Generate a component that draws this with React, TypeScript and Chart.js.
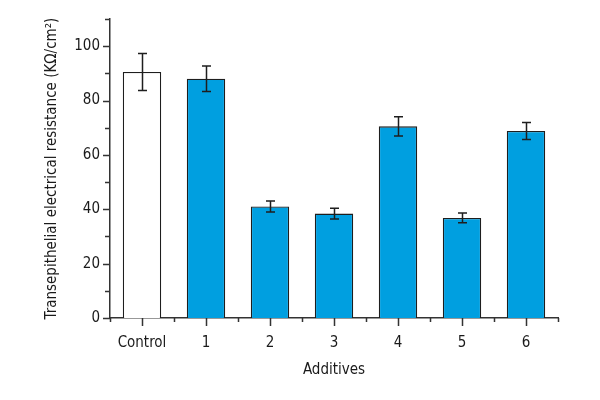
import React, { useEffect, useRef } from 'react';
import { Chart, registerables } from 'chart.js';

Chart.register(...registerables);

const categories = ['Control', '1', '2', '3', '4', '5', '6'];
const teerValues = [90.5, 88.0, 41.0, 38.4, 70.5, 36.8, 68.8];
const errorValues = [6.8, 4.7, 2.0, 2.0, 3.5, 1.8, 3.1];
const yMin = 0;
const yMax = 110;
const yStep = 10;
const yLabelStep = 20;
const yLabelMax = 100;
const yTitle = 'Transepithelial electrical resistance (KΩ/cm²)';
const xTitle = 'Additives';

const FONT = '"Liberation Sans Narrow", "DejaVu Sans Condensed", "Roboto", sans-serif';
const AXIS_COLOR = '#333333';
const BAR_BLUE = '#009fe0';

const axisPlugin = {
  id: 'axisTicksAndErrors',
  afterDatasetsDraw(chart: any) {
    const { ctx, chartArea, scales } = chart;
    const x = scales.x;
    const y = scales.y;
    ctx.save();
    ctx.strokeStyle = '#1e1e1e';
    ctx.lineWidth = 1.5;
    const meta = chart.getDatasetMeta(0);
    meta.data.forEach((bar: any, i: number) => {
      const xc = Math.round(bar.x) + 0.5;
      const top = y.getPixelForValue(teerValues[i] + errorValues[i]);
      const bot = y.getPixelForValue(teerValues[i] - errorValues[i]);
      const cap = 4.5;
      ctx.beginPath();
      ctx.moveTo(xc, top);
      ctx.lineTo(xc, bot);
      ctx.moveTo(xc - cap, top);
      ctx.lineTo(xc + cap, top);
      ctx.moveTo(xc - cap, bot);
      ctx.lineTo(xc + cap, bot);
      ctx.stroke();
    });
    ctx.strokeStyle = AXIS_COLOR;
    ctx.lineWidth = 1.5;
    ctx.beginPath();
    for (let v = yMin; v <= yMax; v += yStep) {
      const py = Math.round(y.getPixelForValue(v)) + 0.5;
      const len = v % yLabelStep === 0 && v <= yLabelMax ? 7 : 5;
      ctx.moveTo(chartArea.left - len, py);
      ctx.lineTo(chartArea.left, py);
    }
    for (let i = 0; i < categories.length; i++) {
      const px = Math.round(x.getPixelForValue(i)) + 0.5;
      ctx.moveTo(px, chartArea.bottom);
      ctx.lineTo(px, chartArea.bottom + 8);
    }
    for (let i = 0; i <= categories.length; i++) {
      const px = Math.round(x.getPixelForValue(i - 0.5)) + 0.5;
      ctx.moveTo(px, chartArea.bottom);
      ctx.lineTo(px, chartArea.bottom + 4);
    }
    ctx.stroke();
    ctx.restore();
  },
};

export default function App() {
  const canvasRef = useRef<HTMLCanvasElement | null>(null);

  useEffect(() => {
    if (!canvasRef.current) return;
    const chart = new Chart(canvasRef.current, {
      type: 'bar',
      data: {
        labels: categories,
        datasets: [
          {
            data: teerValues,
            backgroundColor: categories.map((_, i) => (i === 0 ? '#ffffff' : BAR_BLUE)),
            borderColor: '#1e1e1e',
            borderWidth: 1.3,
            barPercentage: 0.6,
            categoryPercentage: 1,
          },
        ],
      },
      options: {
        responsive: false,
        animation: false,
        layout: { padding: { top: 19, right: 42, bottom: 21, left: 0 } },
        plugins: {
          legend: { display: false },
          tooltip: { enabled: false },
        },
        scales: {
          x: {
            grid: { display: false, drawTicks: false },
            border: { display: true, color: AXIS_COLOR, width: 1.5 },
            ticks: {
              color: '#1a1a1a',
              font: { family: FONT, size: 15 },
              padding: 16,
              maxRotation: 0,
            },
            title: {
              display: true,
              text: xTitle,
              color: '#1a1a1a',
              font: { family: FONT, size: 15 },
              padding: { top: -7, bottom: 0 },
            },
          },
          y: {
            min: yMin,
            max: yMax,
            grid: { display: false, drawTicks: false },
            border: { display: true, color: AXIS_COLOR, width: 1.5 },
            ticks: {
              stepSize: yStep,
              color: '#1a1a1a',
              font: { family: FONT, size: 15 },
              padding: 10,
              callback: (v: any) => (Number(v) % yLabelStep === 0 && Number(v) <= yLabelMax ? String(v) : ''),
            },
            title: {
              display: true,
              text: yTitle,
              color: '#1a1a1a',
              font: { family: FONT, size: 15 },
              padding: { top: 43, bottom: 0 },
            },
            afterFit: (scale: any) => {
              scale.width = 110;
            },
          },
        },
      },
      plugins: [axisPlugin],
    });
    return () => chart.destroy();
  }, []);

  return (
    <div style={{ position: 'absolute', left: 0, top: 0, width: 600, height: 400 }}>
      <canvas ref={canvasRef} width={600} height={400} />
    </div>
  );
}
